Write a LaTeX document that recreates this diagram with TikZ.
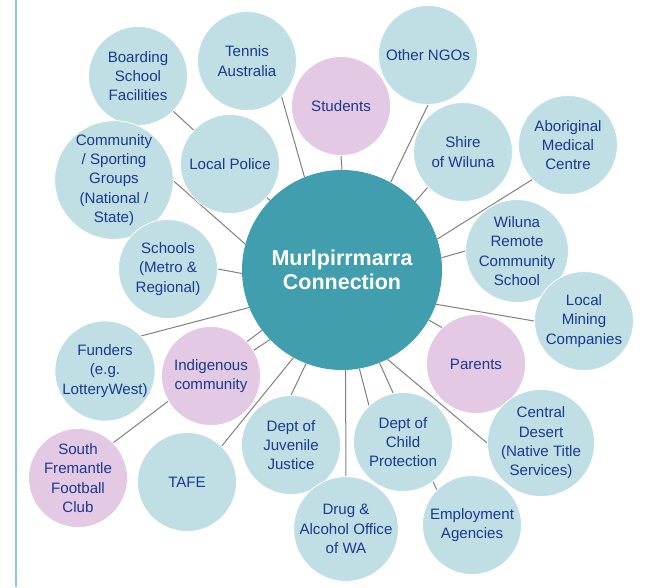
\documentclass[tikz,border=0pt]{standalone}
\usepackage{fontspec}
\setmainfont{Liberation Sans}
\usetikzlibrary{backgrounds}
\definecolor{bubble}{RGB}{192,223,228}
\definecolor{pinkbubble}{RGB}{227,201,227}
\definecolor{hubteal}{RGB}{64,158,174}
\definecolor{labelblue}{RGB}{26,56,148}
\definecolor{linkgray}{RGB}{128,128,128}
\definecolor{railblue}{RGB}{140,200,215}
\begin{document}
\begin{tikzpicture}[x=1pt, y=-1pt,
  partner/.style={circle, fill=bubble, draw=white, line width=0.8pt, minimum size=99pt, inner sep=0pt,
    align=center, text=labelblue, font=\fontsize{15.1}{19.3}\selectfont},
  people/.style={partner, fill=pinkbubble},
  hubnode/.style={circle, fill=hubteal, minimum size=200pt, inner sep=0pt, align=center,
    text=white, font=\fontsize{21.5}{24}\selectfont\bfseries},
  link/.style={draw=linkgray, line width=1pt}]
\useasboundingbox (0,0) rectangle (672,587);

% Left rule
\draw[railblue, line width=2.5pt] (16,0) -- (16,587);

% Partner circles, top
\node[partner] (tennis) at (247,61) {Tennis\\Australia};
\node[partner] (board) at (138,76) {Boarding\\School\\Facilities};
\node[partner] (ngos) at (428,55) {Other NGOs};
\node[people] (students) at (341,106) {Students};
\node[partner] (police) at (230,164) {Local Police};

% Partner circles, left
\node[partner] (community) at (114,180) {Community\\/ Sporting\\Groups\\(National /\\State)};
\node[partner] (schools) at (168,269) {Schools\\(Metro \&\\Regional)};

% Partner circles, right
\node[partner] (shire) at (463,152) {Shire\\of Wiluna};
\node[partner] (medical) at (568,145) {Aboriginal\\Medical\\Centre};
\node[partner] (remote) at (517,251) {Wiluna\\Remote\\Community\\School};
\node[partner] (mining) at (584,321) {Local\\Mining\\Companies};
\node[people] (parents) at (476,364) {Parents};
\node[partner] (desert) at (541,443) {Central\\Desert\\(Native Title\\Services)};

% Partner circles, bottom
\node[partner] (child) at (403,442) {Dept of\\Child\\Protection};
\node[partner] (employ) at (472,525) {Employment\\Agencies};
\node[partner] (juvenile) at (291,445) {Dept of\\Juvenile\\Justice};
\node[partner] (drug) at (346,529) {Drug \&\\Alcohol Office\\of WA};
\node[partner] (tafe) at (187,482) {TAFE};
\node[partner] (funders) at (105,371) {Funders\\(e.g.\\LotteryWest)};
\node[people] (indig) at (211,376) {Indigenous\\community};
\node[people] (football) at (78,478) {South\\Fremantle\\Football\\Club};

% Hub
\node[hubnode] (hub) at (342,270) {Murlpirrmarra\\Connection};

% Links
\begin{scope}[on background layer]
\draw[link] (hub.136) -- (board.315);
\draw[link] (hub.112) -- (tennis.314);
\draw[link] (hub.90) -- (students.270);
\draw[link] (hub.61) -- (ngos.270);
\draw[link] (hub.165) -- (community.359);
\draw[link] (hub.182) -- (schools.0);
\draw[link] (hub.43) -- (shire.225);
\draw[link] (hub.18) -- (medical.224);
\draw[link] (hub.7) -- (remote.180);
\draw[link] (hub.340) -- (mining.180);
\draw[link] (hub.330) -- (parents.133);
\draw[link] (hub.297) -- (desert.180);
\draw[link] (hub.292.5) -- (employ.135);
\draw[link] (hub.280) -- (child.133);
\draw[link] (hub.272) -- (drug.90);
\draw[link] (hub.249) -- (juvenile.90);
\draw[link] (hub.241) -- (tafe.46);
\draw[link] (hub.224) -- (indig.31);
\draw[link] (hub.217) -- (football.45);
\draw[link] (hub.202) -- (funders.44);
\end{scope}
\end{tikzpicture}
\end{document}
